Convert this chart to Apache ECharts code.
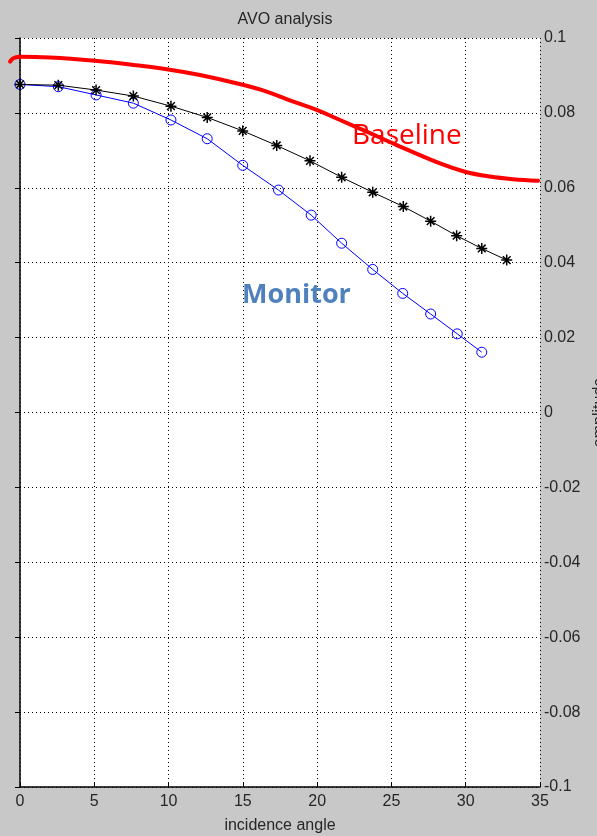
<!DOCTYPE html>
<html>
<head>
<meta charset="utf-8">
<title>AVO analysis</title>
<script src="https://cdn.jsdelivr.net/npm/echarts@6/dist/echarts.min.js"></script>
<style>
  html, body { margin: 0; padding: 0; background: #c8c8c8; }
  #chart { width: 597px; height: 836px; }
</style>
</head>
<body>
<div id="chart"></div>
<script>
// Incidence angles (degrees) and amplitudes for each trace
const baselineAngles = [0, 2.58, 5.12, 7.63, 10.16, 12.6, 14.99, 17.28, 19.52, 21.65, 23.74, 25.8, 27.64, 29.39, 31.08, 32.76];
const baselineAmps   = [0.0876, 0.0874, 0.0861, 0.0845, 0.0818, 0.0788, 0.0752, 0.0713, 0.0672, 0.0628, 0.0588, 0.0550, 0.0511, 0.0472, 0.0438, 0.0407];

const monitorAngles = [0, 2.58, 5.12, 7.63, 10.16, 12.6, 14.99, 17.4, 19.6, 21.65, 23.74, 25.76, 27.64, 29.43, 31.08];
const monitorAmps   = [0.0876, 0.0870, 0.0848, 0.0826, 0.0781, 0.0731, 0.0660, 0.0594, 0.0527, 0.0452, 0.0382, 0.0318, 0.0263, 0.0210, 0.0161];

// Hand-drawn baseline trend (thick red stroke); the pen starts slightly left of the axis
const trendAngles = [-0.67, -0.45, 0, 2.02, 5.05, 7.63, 9.98, 12.12, 14.99, 16.6, 18.4, 19.97, 21.54, 23.34, 25.36, 28.27, 29.95, 31.63, 33.18, 34.87];
const trendAmps   = [0.0937, 0.0946, 0.0950, 0.0948, 0.0939, 0.0928, 0.0916, 0.0901, 0.0875, 0.0857, 0.0830, 0.0808, 0.0781, 0.0750, 0.0714, 0.0665, 0.0643, 0.0630, 0.0623, 0.0619];

const xTicks = { min: 0, max: 35, interval: 5 };
const yTicks = { min: -0.1, max: 0.1, interval: 0.02 };

const pairs = (xs, ys) => xs.map((x, i) => [x, ys[i]]);

const AXIS_FONT = '"Liberation Sans", Arial, sans-serif';
const TEXT_COLOR = '#262626';
const dotted = { color: '#000', width: 1, type: [1, 3] };
const TREND_STYLE = { color: '#ff0000', width: 4, cap: 'round', join: 'round' };

const asterisk = 'path://M0,5L10,5M5,0L5,10M1.5,1.5L8.5,8.5M8.5,1.5L1.5,8.5';

const chart = echarts.init(document.getElementById('chart'), null, { renderer: 'canvas' });

chart.setOption({
  backgroundColor: '#c8c8c8',
  animation: false,
  title: {
    text: 'AVO analysis',
    left: 280,
    top: 7,
    textAlign: 'center',
    textStyle: { fontFamily: AXIS_FONT, fontSize: 16, fontWeight: 'normal', color: TEXT_COLOR }
  },
  grid: {
    left: 20, right: 57, top: 38, bottom: 49,
    show: true, backgroundColor: '#ffffff', borderWidth: 0,
    outerBoundsMode: 'none', containLabel: false
  },
  xAxis: {
    type: 'value',
    min: xTicks.min, max: xTicks.max, interval: xTicks.interval,
    name: 'incidence angle',
    nameLocation: 'middle',
    nameGap: 31,
    nameTextStyle: { fontFamily: AXIS_FONT, fontSize: 16, color: TEXT_COLOR },
    axisLine: { show: true, onZero: false, lineStyle: { color: '#000', width: 1.5 } },
    axisTick: { show: true, inside: true, length: 5, lineStyle: { color: '#000', width: 1 } },
    axisLabel: { margin: 7, fontFamily: AXIS_FONT, fontSize: 16, color: TEXT_COLOR },
    splitLine: { show: true, lineStyle: dotted }
  },
  yAxis: [
    {
      type: 'value',
      position: 'right',
      min: yTicks.min, max: yTicks.max, interval: yTicks.interval,
      name: 'amplitude',
      nameLocation: 'middle',
      nameGap: 52,
      nameTextStyle: { fontFamily: AXIS_FONT, fontSize: 16, color: TEXT_COLOR },
      axisLine: { show: false },
      axisTick: { show: true, inside: true, length: 5, lineStyle: { color: '#000', width: 1 } },
      axisLabel: { margin: 4, fontFamily: AXIS_FONT, fontSize: 16, color: TEXT_COLOR },
      splitLine: { show: true, lineStyle: dotted }
    },
    {
      type: 'value',
      position: 'left',
      min: yTicks.min, max: yTicks.max,
      axisLine: { show: true, onZero: false, lineStyle: { color: '#000', width: 1.5 } },
      axisTick: { show: false },
      axisLabel: { show: false },
      splitLine: { show: false }
    }
  ],
  series: [
    {
      name: 'Monitor',
      type: 'line',
      data: pairs(monitorAngles, monitorAmps),
      lineStyle: { color: '#0000ff', width: 1 },
      symbol: 'circle',
      symbolSize: 10,
      itemStyle: { color: 'rgba(0,0,0,0)', borderColor: '#0000ff', borderWidth: 1 },
      z: 3
    },
    {
      name: 'Baseline',
      type: 'line',
      data: pairs(baselineAngles, baselineAmps),
      lineStyle: { color: '#000000', width: 1 },
      symbol: asterisk,
      symbolSize: 11,
      itemStyle: { color: 'rgba(0,0,0,0)', borderColor: '#000000', borderWidth: 1.5 },
      z: 4
    },
    {
      name: 'Trend',
      type: 'line',
      data: pairs(trendAngles, trendAmps),
      smooth: 0.4,
      clip: false,
      showSymbol: false,
      symbol: 'none',
      lineStyle: TREND_STYLE,
      z: 5
    }
  ],
  graphic: [
    {
      id: 'baselineLabel', type: 'text', z: 10,
      style: {
        text: 'Baseline', x: 352, y: 136,
        fill: '#ff0000', font: '28px "Open Sans", "Noto Sans", sans-serif',
        align: 'left', verticalAlign: 'middle'
      }
    },
    {
      id: 'monitorLabel', type: 'text', z: 10,
      style: {
        text: 'Monitor', x: 242, y: 295,
        fill: '#4f81bd', font: 'bold 27px "Open Sans", "Noto Sans", sans-serif',
        align: 'left', verticalAlign: 'middle'
      }
    }
  ]
});

// The start of the red stroke lies left of x = 0; draw that short piece
// through the axis scales so it shows outside the plotting area too.
const hookPts = [];
for (let i = 0; i < trendAngles.length && (i === 0 || trendAngles[i - 1] < 0); i++) {
  hookPts.push(chart.convertToPixel({ gridIndex: 0 }, [trendAngles[i], trendAmps[i]]));
}
chart.setOption({
  graphic: [
    {
      id: 'trendStart', type: 'polyline', z: 11, silent: true,
      shape: { points: hookPts, smooth: 0.4 },
      style: { stroke: TREND_STYLE.color, lineWidth: TREND_STYLE.width, lineCap: 'round', lineJoin: 'round', fill: null }
    }
  ]
});
</script>
</body>
</html>
